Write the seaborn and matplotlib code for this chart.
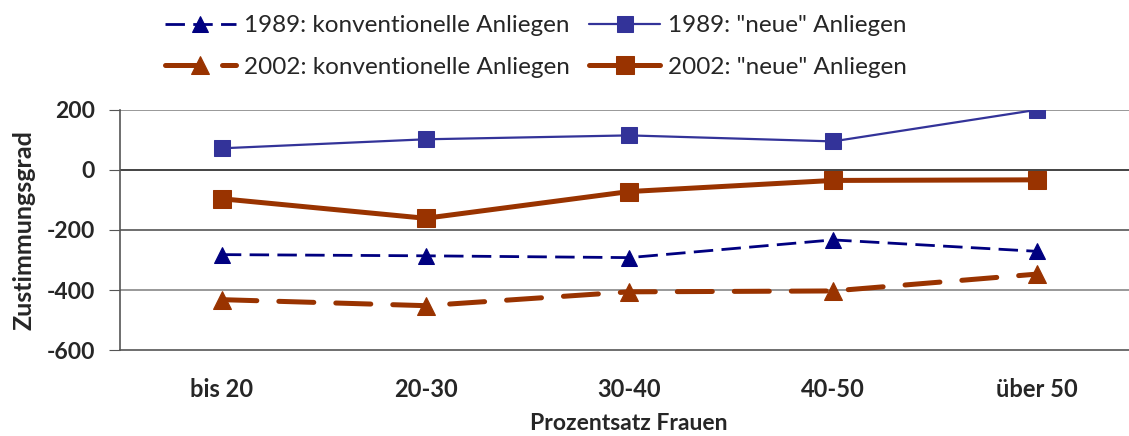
import pandas as pd
import seaborn as sns
import matplotlib.pyplot as plt

# Daten
kategorien = ["bis 20", "20-30", "30-40", "40-50", "über 50"]
konv_1989 = [-282, -286, -292, -233, -271]
neue_1989 = [72, 102, 115, 95, 200]
konv_2002 = [-432, -452, -406, -403, -347]
neue_2002 = [-96, -161, -72, -35, -33]

sns.set_theme(style="white")
plt.rcParams['font.family'] = ['Lato', 'DejaVu Sans']
plt.rcParams['axes.unicode_minus'] = False

fig = plt.figure(figsize=(11.29, 4.36), dpi=100)
ax = fig.add_axes([0.1063, 0.197, 0.902, 0.551])

# Gitterlinien
for yv, c in [(200, '#888888'), (0, '#222222'), (-200, '#555555'), (-400, '#888888')]:
    ax.axhline(yv, color=c, lw=1.2, zorder=0)

navy = '#000080'
blau = '#333399'
braun = '#993300'

sns.lineplot(x=kategorien, y=konv_1989, ax=ax, color=navy, lw=2.0,
             marker='^', markersize=11, markeredgecolor=navy,
             label='1989: konventionelle Anliegen')
ax.lines[-1].set_dashes((7, 3))
sns.lineplot(x=kategorien, y=neue_1989, ax=ax, color=blau, lw=1.6,
             marker='s', markersize=11, markeredgecolor=blau,
             label='1989: "neue" Anliegen')
sns.lineplot(x=kategorien, y=konv_2002, ax=ax, color=braun, lw=3.6,
             marker='^', markersize=13, markeredgecolor=braun,
             label='2002: konventionelle Anliegen')
ax.lines[-1].set_dashes((7, 4.4))
ax.lines[-1].set_dash_capstyle('round')
sns.lineplot(x=kategorien, y=neue_2002, ax=ax, color=braun, lw=3.6,
             marker='s', markersize=13, markeredgecolor=braun,
             label='2002: "neue" Anliegen')

ax.set_xlim(-0.5, 4.5)
ax.set_ylim(-600, 200)
ax.set_yticks([200, 0, -200, -400, -600])
ax.set_xticks(range(len(kategorien)))
ax.set_xticklabels(kategorien)
ax.set_xticks([i - 0.5 for i in range(len(kategorien) + 1)], minor=True)
ax.tick_params(axis='x', which='major', length=0, pad=20, labelsize=17)
ax.tick_params(axis='x', which='minor', length=6, width=0.8, color='#555555', direction='out')
ax.tick_params(axis='y', length=8, width=0.8, color='#555555', direction='out', left=True,
               labelsize=16.5, pad=10)
plt.setp(ax.get_xticklabels(), fontweight='bold')
plt.setp(ax.get_yticklabels(), fontweight='bold')

ax.spines['top'].set_visible(False)
ax.spines['right'].set_visible(False)
ax.spines['left'].set_color('#555555')
ax.spines['bottom'].set_color('#555555')
ax.spines['left'].set_linewidth(1.2)
ax.spines['bottom'].set_linewidth(1.2)

ax.set_xlabel('Prozentsatz Frauen', fontsize=16.5, fontweight='bold', labelpad=9)
ax.set_ylabel('Zustimmungsgrad', fontsize=18, fontweight='bold', labelpad=8)

# Legende oben (zeilenweise Reihenfolge)
handles, labels = ax.get_legend_handles_labels()
order = [0, 2, 1, 3]
ax.get_legend().remove()
fig.legend([handles[i] for i in order], [labels[i] for i in order],
           loc='center', bbox_to_anchor=(0.475, 0.893), ncol=2, frameon=False,
           fontsize=17.5, handlelength=2.9, columnspacing=0.8, labelspacing=0.85,
           handletextpad=0.35, borderpad=0.2)

fig.savefig('out.png', dpi=100)
